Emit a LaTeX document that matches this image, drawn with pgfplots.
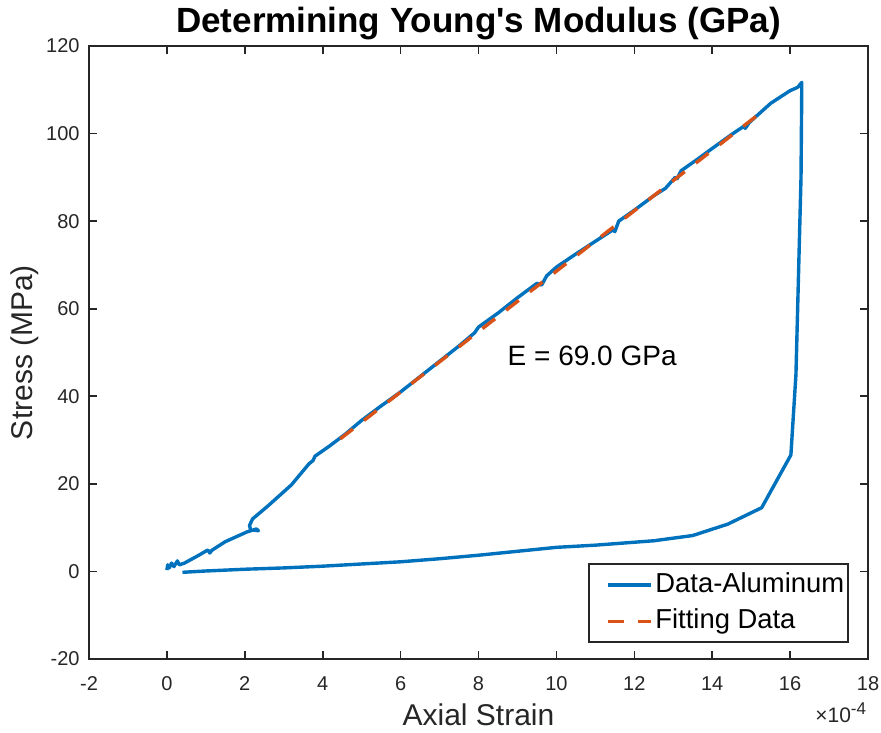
\documentclass[border=0pt]{standalone}
\usepackage{fontspec}
\setmainfont{Liberation Sans}
\usepackage{pgfplots}
\pgfplotsset{compat=1.18}
\definecolor{mblue}{RGB}{0,114,189}
\definecolor{morange}{RGB}{217,83,25}
\definecolor{axgray}{RGB}{38,38,38}
\begin{document}
\begin{tikzpicture}
\begin{axis}[
 scale only axis, width=389.5pt, height=306.5pt,
 xmin=-2,xmax=18,ymin=-20,ymax=120,
 xtick={-2,0,...,18}, ytick={-20,0,...,120},
 tick align=inside, tick pos=both, major tick length=3.8pt,
 axis line style={axgray, line width=0.8pt},
 every tick/.style={axgray, line width=0.8pt},
 tick label style={font=\fontsize{10}{12}\selectfont, text=axgray},
 /pgf/number format/assume math mode=true,
 xticklabel style={anchor=base, yshift=-15.5pt},
 yticklabel style={xshift=-1.2pt},
 clip=false,
 every axis title shift=0pt,
 title={Determining Young\textquotesingle s Modulus (GPa)},
 title style={font=\bfseries\fontsize{17.5}{20}\selectfont, at={(rel axis cs:0.5,1.0212)}, anchor=base},
 xlabel={Axial Strain}, ylabel={Stress (MPa)},
 xlabel style={font=\fontsize{15}{18}\selectfont, at={(rel axis cs:0.5,-0.1077)}, anchor=base, text=axgray},
 ylabel style={font=\fontsize{15}{18}\selectfont, at={(rel axis cs:-0.0719,0.5)}, anchor=base, text=axgray},
 legend style={at={(rel axis cs:1,0)}, anchor=south east, xshift=-9.5pt, yshift=8pt,
   draw=axgray, line width=0.8pt, font=\fontsize{13.7}{16}\selectfont,
   inner xsep=0.5pt, inner ysep=1.5pt,
   nodes={text height=10pt, text depth=3pt, inner ysep=2.5pt, inner xsep=1.5pt, anchor=west},
   row sep=0pt},
 legend cell align=left,
 legend image code/.code={\path (0pt,0pt) (29.5pt,0pt); \draw[#1] (8pt,0pt) -- (29.5pt,0pt);},
]
\addplot[mblue, line width=1.7pt, line join=round] coordinates {
(0,0.3)(0.02,1.5)(0.06,0.8)(0.12,1.9)(0.18,1.1)(0.27,2.4)(0.32,1.5)(0.45,1.9)
(0.8,3.6)(1.05,4.9)(1.1,4.2)(1.15,4.8)(1.5,6.8)(2.05,9.0)(2.3,9.7)(2.35,9.3)
(2.15,9.5)(2.12,10.5)(2.2,12)(2.6,15)(3.2,19.8)(3.65,24.6)(3.75,25.3)(3.8,26.3)
(4.2,28.8)(4.6,31.5)(5,34.5)(5.5,37.8)(6,41)(6.5,44.5)(7,48)(7.5,51.5)(7.9,54.5)
(8,55.8)(8.5,59)(9,62.5)(9.5,65.8)(9.62,65.4)(9.75,67.5)(10,69.5)(10.5,72.5)
(11,75.4)(11.45,78)(11.5,77.6)(11.6,80)(12,82.5)(12.5,85.8)(12.8,87.5)(13.05,90)
(13.1,89.7)(13.2,91.5)(13.6,94)(14,96.6)(14.5,99.8)(14.8,101.6)(14.85,101.2)
(14.95,102.5)(15.5,106.9)(16.0,109.8)(16.13,110.3)(16.2,110.6)(16.3,111.7)
(16.3,111.2)(16.28,90)(16.15,45)(16.02,26.6)(15.27,14.55)(14.4,10.8)(13.5,8.2)
(12.5,7.0)(11,6.0)(10,5.5)(9,4.6)(8,3.7)(7,2.9)(6,2.2)(5,1.7)(4,1.2)(3,0.8)
(2,0.5)(1,0.1)(0.4,-0.2)};
\addlegendentry{Data-Aluminum}
\addplot[morange, line width=1.7pt, dash pattern=on 8pt off 7pt] coordinates {(4.45,30.27)(15.23,104.65)};
\addlegendentry{Fitting Data}
\node[anchor=base west, inner sep=0pt, font=\fontsize{14}{16}\selectfont] at (axis cs:8.74,47.1) {E = 69.0 GPa};
\node[anchor=base east, inner sep=0pt, text=axgray] at (rel axis cs:0.998,-0.1028) {{\fontsize{10.5}{12}\selectfont ×10}\raisebox{3.8pt}{\fontsize{8.5}{10}\selectfont -4}};
\end{axis}
\pgfresetboundingbox
\path ([shift={(-44.5pt,-36.5pt)}]current axis.south west) rectangle ([shift={(6.5pt,23pt)}]current axis.north east);
\end{tikzpicture}
\end{document}
